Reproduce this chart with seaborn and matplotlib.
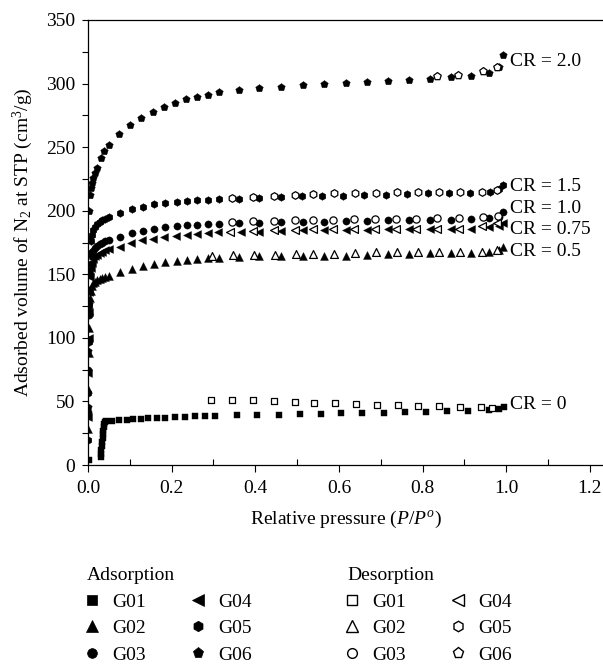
import matplotlib
matplotlib.use("Agg")
import matplotlib.pyplot as plt
import seaborn as sns
from matplotlib.lines import Line2D
from matplotlib.ticker import MultipleLocator, FormatStrFormatter

# ---------------- data ----------------
samples = ["G01", "G02", "G03", "G04", "G05", "G06"]
cr_labels = ["CR = 0", "CR = 0.5", "CR = 1.0", "CR = 0.75", "CR = 1.5", "CR = 2.0"]
cr_label_y = [47.2, 167.9, 202.0, 184.9, 219.0, 317.4]

g01_ads_p = [0.002, 0.030, 0.031, 0.032, 0.033, 0.034, 0.035, 0.036, 0.037, 0.038, 0.039, 0.040, 0.042,
             0.0566, 0.075, 0.0925, 0.1084, 0.127, 0.1443, 0.164, 0.184, 0.208, 0.232, 0.256, 0.2798,
             0.3037, 0.3555, 0.405, 0.456, 0.507, 0.556, 0.606, 0.656, 0.707, 0.758, 0.808, 0.858,
             0.909, 0.959, 0.983, 0.995]
g01_ads_v = [4.0, 6.0, 9.0, 12.0, 15.0, 18.0, 21.0, 24.0, 27.0, 30.0, 32.5, 34.0, 34.8,
             35.0, 35.3, 35.6, 36.0, 36.3, 36.7, 37.0, 37.3, 37.6, 37.9, 38.2, 38.5,
             38.8, 39.1, 39.4, 39.7, 39.9, 39.9, 40.6, 40.6, 41.2, 41.4, 41.7, 42.2,
             42.5, 43.3, 43.8, 45.9]
g01_des_p = [0.2933, 0.3435, 0.3937, 0.4439, 0.4938, 0.541, 0.591, 0.641, 0.690, 0.740, 0.790, 0.840,
             0.889, 0.939, 0.967]
g01_des_v = [51.2, 51.0, 50.8, 50.2, 49.6, 49.0, 48.5, 48.0, 47.5, 47.2, 46.7, 46.4, 45.9, 45.4, 45.1]

g02_ads_p = [0.0005, 0.001, 0.0015, 0.002, 0.003, 0.0045, 0.0065, 0.009, 0.013, 0.0175, 0.0225, 0.028,
             0.034, 0.041, 0.050, 0.0765, 0.1044, 0.1323, 0.1586, 0.1849, 0.212, 0.2359, 0.2614,
             0.2869, 0.3132, 0.3618, 0.4088, 0.4618, 0.5148, 0.565, 0.6168, 0.6662, 0.7164, 0.7666,
             0.8168, 0.867, 0.9156, 0.9594, 0.9825, 0.9929]
g02_ads_v = [28, 60, 88, 108, 122, 131, 137, 140.5, 142.8, 144.3, 145.5, 146.5,
             147.3, 148.0, 148.8, 151.5, 154.3, 156.5, 158.2, 159.5, 160.5, 161.3, 162.0,
             162.5, 163.0, 163.5, 164.0, 164.3, 164.5, 164.5, 164.5, 165.3, 165.8, 165.8,
             166.6, 166.6, 166.6, 167.9, 169.2, 171.3]
g02_des_p = [0.2957, 0.3475, 0.3977, 0.4479, 0.4978, 0.5387, 0.5889, 0.6383, 0.6885, 0.7379, 0.7881,
             0.8383, 0.8885, 0.9427, 0.977]
g02_des_v = [164.5, 164.8, 165.0, 165.3, 165.6, 166.1, 165.8, 166.6, 167.4, 167.4, 167.4, 167.4, 167.4,
             167.9, 169.2]

g03_ads_p = [0.0005, 0.001, 0.0015, 0.002, 0.003, 0.0045, 0.0065, 0.009, 0.013, 0.0175, 0.0225, 0.028,
             0.034, 0.041, 0.050, 0.0765, 0.1044, 0.1323, 0.1586, 0.1849, 0.212, 0.2359, 0.2614,
             0.2869, 0.3132, 0.3618, 0.4088, 0.4618, 0.5148, 0.565, 0.6168, 0.6662, 0.7164, 0.7666,
             0.8168, 0.867, 0.9156, 0.9594, 0.9825, 0.9929]
g03_ads_v = [42, 75, 98, 118, 138, 150, 158, 164, 168, 170.5, 172.5, 174.0,
             175.0, 176.0, 177.0, 179.7, 182.3, 184.4, 186.0, 187.0, 187.8, 188.5, 189.1,
             189.4, 189.8, 190.2, 190.6, 191.0, 191.5, 191.5, 192.0, 192.0, 192.6, 192.6,
             192.6, 192.8, 193.3, 194.1, 195.4, 198.8]
g03_des_p = [0.3435, 0.3937, 0.4439, 0.4938, 0.5387, 0.5859, 0.6358, 0.6853, 0.7355, 0.7849, 0.8351,
             0.8861, 0.9443, 0.9802]
g03_des_v = [191.2, 191.8, 192.2, 192.5, 192.8, 192.8, 193.3, 193.3, 193.6, 193.6, 193.9, 194.1,
             194.9, 196.0]

g04_ads_p = [0.0005, 0.001, 0.0015, 0.002, 0.003, 0.0045, 0.0065, 0.009, 0.013, 0.0175, 0.0225, 0.028,
             0.034, 0.041, 0.050, 0.0765, 0.1028, 0.128, 0.1562, 0.1825, 0.2096, 0.236, 0.2598,
             0.2869, 0.3116, 0.3658, 0.4088, 0.4618, 0.5148, 0.565, 0.6168, 0.6662, 0.7164, 0.7666,
             0.8168, 0.867, 0.9156, 0.9594, 0.9825, 0.9929]
g04_ads_v = [38, 72, 100, 120, 136, 148, 155, 159, 162, 164, 165.5, 166.8,
             167.8, 168.8, 169.6, 171.8, 174.5, 176.6, 178.1, 179.2, 180.2, 181.0, 181.8,
             182.3, 183.1, 183.3, 183.6, 184.3, 184.9, 184.9, 184.9, 184.9, 185.5, 185.5,
             185.5, 185.7, 186.0, 187.0, 188.0, 190.0]
g04_des_p = [0.3395, 0.3937, 0.4439, 0.4938, 0.5387, 0.5859, 0.6358, 0.6853, 0.7355, 0.7849, 0.8351,
             0.8861, 0.9427, 0.977]
g04_des_v = [183.6, 183.9, 184.6, 185.2, 185.5, 185.5, 185.5, 185.5, 186.0, 186.0, 186.0, 186.0,
             187.6, 190.7]

g05_ads_p = [0.0005, 0.001, 0.0015, 0.002, 0.003, 0.0045, 0.0065, 0.009, 0.013, 0.0175, 0.0225, 0.028,
             0.034, 0.041, 0.050, 0.0765, 0.1044, 0.1323, 0.1586, 0.1849, 0.212, 0.2359, 0.2614,
             0.2869, 0.3132, 0.3618, 0.4088, 0.4618, 0.5108, 0.5602, 0.6104, 0.6606, 0.7124, 0.7634,
             0.8121, 0.8623, 0.9133, 0.961, 0.9833, 0.9929]
g05_ads_v = [20, 57, 97, 125, 150, 167, 176, 181, 185, 187.5, 189.5, 191.0,
             192.5, 193.8, 195.0, 198.0, 201.2, 203.3, 204.9, 205.9, 207.0, 207.8, 208.5,
             208.8, 209.3, 209.5, 209.9, 210.6, 211.2, 211.2, 211.7, 212.5, 212.5, 213.0,
             213.8, 213.8, 214.3, 215.1, 216.9, 220.3]
g05_des_p = [0.3435, 0.3937, 0.4439, 0.4938, 0.5387, 0.5889, 0.6383, 0.6885, 0.7379, 0.7881, 0.8383,
             0.8885, 0.9427, 0.977]
g05_des_v = [210.1, 210.9, 211.6, 212.3, 213.0, 213.8, 213.8, 214.3, 214.6, 214.6, 214.6, 214.6,
             215.1, 216.4]

g06_ads_p = [0.0005, 0.0009, 0.0013, 0.0018, 0.0025, 0.0035, 0.005, 0.007, 0.0095, 0.013, 0.0165,
             0.0207, 0.0303, 0.039, 0.0502, 0.0749, 0.1004, 0.1267, 0.1546, 0.1817, 0.208, 0.2343,
             0.2598, 0.2861, 0.3132, 0.361, 0.4088, 0.4618, 0.5148, 0.565, 0.6168, 0.6662, 0.7164,
             0.7666, 0.8168, 0.867, 0.9156, 0.9594, 0.9825, 0.9929]
g06_ads_v = [46, 90, 127, 152, 178, 200, 212, 218, 222, 226, 230,
             233.5, 241.3, 246.6, 251.3, 260.5, 267.6, 272.8, 277.5, 281.7, 284.6, 287.5,
             289.6, 291.2, 293.0, 295.1, 296.7, 297.6, 298.5, 299.5, 300.6, 301.6, 302.2,
             302.7, 303.7, 304.8, 305.8, 308.7, 312.7, 322.6]
g06_des_p = [0.8336, 0.8838, 0.9451, 0.977]
g06_des_v = [305.6, 306.9, 310.0, 313.4]

ads_p = [g01_ads_p, g02_ads_p, g03_ads_p, g04_ads_p, g05_ads_p, g06_ads_p]
ads_v = [g01_ads_v, g02_ads_v, g03_ads_v, g04_ads_v, g05_ads_v, g06_ads_v]
des_p = [g01_des_p, g02_des_p, g03_des_p, g04_des_p, g05_des_p, g06_des_p]
des_v = [g01_des_v, g02_des_v, g03_des_v, g04_des_v, g05_des_v, g06_des_v]

# ---------------- style ----------------
markers = ["s", "^", "o", "<", "h", "p"]
plot_sizes = [20, 32, 27, 32, 30, 32]
leg_sizes = [7, 8, 7, 8, 7.5, 8]

sns.set_theme(style="ticks")
plt.rcParams["font.family"] = ["Liberation Serif", "DejaVu Serif"]
plt.rcParams["mathtext.fontset"] = "custom"
plt.rcParams["mathtext.rm"] = "Liberation Serif"
plt.rcParams["mathtext.it"] = "Liberation Serif:italic"
plt.rcParams["text.color"] = "black"
plt.rcParams["axes.labelcolor"] = "black"

W, H = 603, 664
fig = plt.figure(figsize=(W / 100, H / 100), dpi=100)
ax_left, ax_right, ax_top, ax_bottom = 88, 603, 20, 465
ax = fig.add_axes([ax_left / W, 1 - ax_bottom / H, (ax_right - ax_left) / W, (ax_bottom - ax_top) / H])

for i in range(len(samples)):
    sns.scatterplot(x=ads_p[i], y=ads_v[i], marker=markers[i], s=plot_sizes[i], color="black",
                    edgecolor="black", linewidth=0.3, ax=ax, legend=False, zorder=3)
for i in range(len(samples)):
    sns.scatterplot(x=des_p[i], y=des_v[i], marker=markers[i], s=plot_sizes[i], color="white",
                    edgecolor="black", linewidth=0.9, ax=ax, legend=False, zorder=4)

for lab, yy in zip(cr_labels, cr_label_y):
    ax.text(1.010, yy, lab, fontsize=14, va="center", ha="left", color="black")

ax.set_xlim(0, (ax_right - ax_left) / 418.3)
ax.set_ylim(0, 350)
ax.set_xticks([0, 0.2, 0.4, 0.6, 0.8, 1.0, 1.2])
ax.xaxis.set_major_formatter(FormatStrFormatter("%.1f"))
ax.xaxis.set_minor_locator(MultipleLocator(0.1))
ax.yaxis.set_major_locator(MultipleLocator(50))
ax.yaxis.set_minor_locator(MultipleLocator(25))

ax.tick_params(axis="x", which="major", direction="out", length=5, width=0.8, labelsize=14,
               pad=6, colors="black")
ax.tick_params(axis="x", which="minor", direction="in", length=4, width=0.8, colors="black")
ax.tick_params(axis="y", which="both", direction="out", length=4, width=0.8, labelsize=14,
               pad=5, colors="black")
for side in ["left", "bottom", "top"]:
    ax.spines[side].set_color("black")
    ax.spines[side].set_linewidth(0.9)
ax.spines["right"].set_visible(False)

ax.set_xlabel("Relative pressure ($P/P^o$)", fontsize=14, labelpad=8)
ax.set_ylabel("Adsorbed volume of N$_2$ at STP (cm$^3$/g)", fontsize=14, labelpad=8)

# ---------------- legends ----------------
def handles(filled):
    hs = []
    for m, ms in zip(markers, leg_sizes):
        if filled:
            hs.append(Line2D([], [], linestyle="none", marker=m, markersize=ms,
                             markerfacecolor="black", markeredgecolor="black", markeredgewidth=0.5))
        else:
            hs.append(Line2D([], [], linestyle="none", marker=m, markersize=ms,
                             markerfacecolor="white", markeredgecolor="black", markeredgewidth=1.0))
    return hs

common = dict(ncol=2, loc="upper left", frameon=False, fontsize=14, title_fontsize=14,
              handlelength=0.5, handletextpad=0.8, columnspacing=2.4, labelspacing=0.46,
              borderpad=0, borderaxespad=0, alignment="left", numpoints=1)
leg1 = fig.legend(handles(True), samples, title="Adsorption",
                  bbox_to_anchor=(87 / W, 1 - 567 / H), **common)
leg2 = fig.legend(handles(False), samples, title="Desorption",
                  bbox_to_anchor=(347 / W, 1 - 567 / H), **common)

fig.savefig("out.png", dpi=100)
